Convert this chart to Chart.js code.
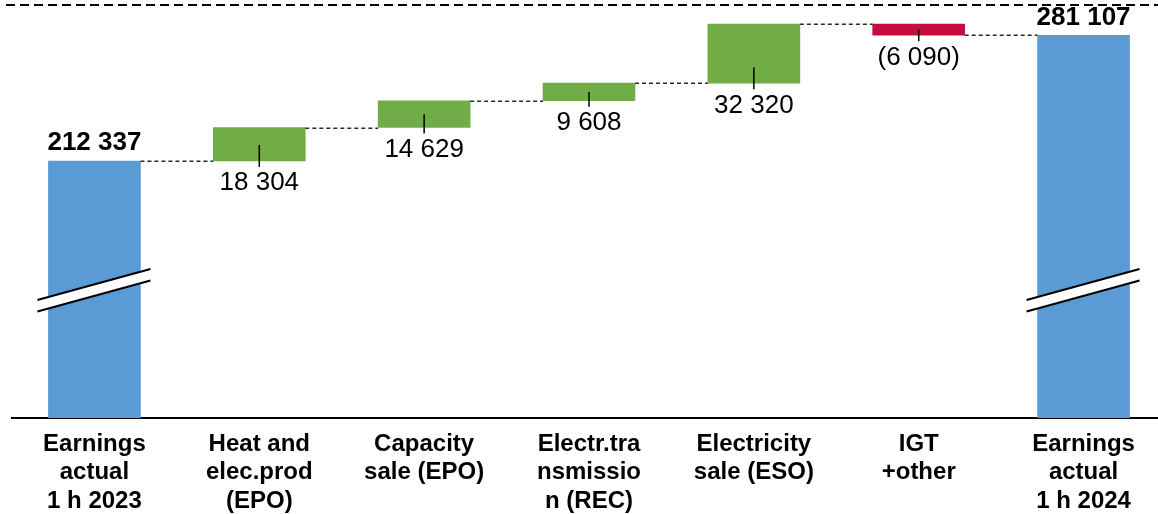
<!DOCTYPE html>
<html><head><meta charset="utf-8">
<script src="https://cdn.jsdelivr.net/npm/chart.js@4/dist/chart.umd.min.js"></script>
<style>
html,body{margin:0;padding:0;background:#fff;overflow:hidden;width:1158px;height:514px}
#wrap{width:1166px;height:514px}
</style></head>
<body><div id="wrap"><canvas id="c" width="1166" height="514"></canvas></div>
<script>
const categories = [
  ["Earnings", "actual", "1 h 2023"],
  ["Heat and", "elec.prod", "(EPO)"],
  ["Capacity", "sale (EPO)"],
  ["Electr.tra", "nsmissio", "n (REC)"],
  ["Electricity", "sale (ESO)"],
  ["IGT", "+other"],
  ["Earnings", "actual", "1 h 2024"]
];
const values = [212337, 18304, 14629, 9608, 32320, -6090, 281107];
const isTotal = [true, false, false, false, false, false, true];
const axisMin = 71750;
const axisMax = 298200;
const axisBreakValue = 141800;

const FONT = '"Liberation Sans", Arial, sans-serif';
const ranges = [];
const ends = [];
let run = 0;
values.forEach((v, i) => {
  if (isTotal[i]) { ranges.push([axisMin, v]); run = v; }
  else { ranges.push([run, run + v]); run += v; }
  ends.push(run);
});
const colors = values.map((v, i) => isTotal[i] ? '#5B9BD5' : (v >= 0 ? '#70AD47' : '#C30D3F'));
function fmt(v) {
  const s = Math.abs(v).toString().replace(/\B(?=(\d{3})+(?!\d))/g, ' ');
  return v < 0 ? '(' + s + ')' : s;
}

const wf = {
  id: 'wf',
  afterDatasetsDraw(chart) {
    const ctx = chart.ctx, area = chart.chartArea, ys = chart.scales.y;
    const els = chart.getDatasetMeta(0).data;
    ctx.save();
    // top dashed line
    ctx.strokeStyle = '#000'; ctx.lineWidth = 2; ctx.setLineDash([9, 5]);
    ctx.beginPath(); ctx.moveTo(6, area.top + 1); ctx.lineTo(chart.width, area.top + 1); ctx.stroke();
    // connectors
    ctx.strokeStyle = '#2a2a2a'; ctx.lineWidth = 1.5; ctx.setLineDash([4, 3]);
    for (let i = 0; i < els.length - 1; i++) {
      const a = els[i], b = els[i + 1];
      const yy = Math.round(ys.getPixelForValue(ends[i])) + 0.25;
      ctx.beginPath(); ctx.moveTo(a.x + a.width / 2, yy); ctx.lineTo(b.x - b.width / 2, yy); ctx.stroke();
    }
    ctx.setLineDash([]);
    // axis break marks
    const yb = ys.getPixelForValue(axisBreakValue);
    els.forEach((e, i) => {
      if (!isTotal[i]) return;
      const x1 = e.x - 57, x2 = e.x + 56;
      const y1 = yb + 10, y2 = yb - 21, gap = 11.5;
      ctx.fillStyle = '#fff';
      ctx.beginPath(); ctx.moveTo(x1, y1); ctx.lineTo(x2, y2); ctx.lineTo(x2, y2 + gap); ctx.lineTo(x1, y1 + gap); ctx.closePath(); ctx.fill();
      ctx.strokeStyle = '#000'; ctx.lineWidth = 2;
      ctx.beginPath(); ctx.moveTo(x1, y1); ctx.lineTo(x2, y2); ctx.moveTo(x1, y1 + gap); ctx.lineTo(x2, y2 + gap); ctx.stroke();
    });
    // labels
    ctx.fillStyle = '#000'; ctx.textAlign = 'center'; ctx.textBaseline = 'alphabetic';
    els.forEach((e, i) => {
      const top = Math.min(e.y, e.base), bottom = Math.max(e.y, e.base);
      if (isTotal[i]) {
        ctx.font = 'bold 26px ' + FONT;
        ctx.fillText(fmt(values[i]), e.x, top - 10.5);
      } else {
        const start = Math.max((top + bottom) / 2, bottom - 16);
        ctx.strokeStyle = '#000'; ctx.lineWidth = 1.5;
        ctx.beginPath(); ctx.moveTo(e.x, start); ctx.lineTo(e.x, bottom + 6); ctx.stroke();
        ctx.font = '26px ' + FONT;
        ctx.fillText(fmt(values[i]), e.x, bottom + 29.5);
      }
    });
    ctx.restore();
  }
};

new Chart(document.getElementById('c'), {
  type: 'bar',
  data: {
    labels: categories,
    datasets: [{ data: ranges, backgroundColor: colors, borderWidth: 0, barThickness: 92 }]
  },
  options: {
    responsive: false, animation: false, devicePixelRatio: 1,
    layout: { padding: { left: 12, right: 0, top: 4, bottom: 0 } },
    plugins: { legend: { display: false }, tooltip: { enabled: false } },
    scales: {
      x: {
        grid: { display: false, drawTicks: false },
        border: { display: true, color: '#000', width: 2 },
        ticks: { color: '#000', font: { family: FONT, size: 24, weight: 'bold', lineHeight: 1.1875 }, padding: 12, maxRotation: 0, autoSkip: false },
        afterFit(s) { s.height = 96; }
      },
      y: { display: false, min: axisMin, max: axisMax }
    }
  },
  plugins: [wf]
});
</script>
</body></html>
